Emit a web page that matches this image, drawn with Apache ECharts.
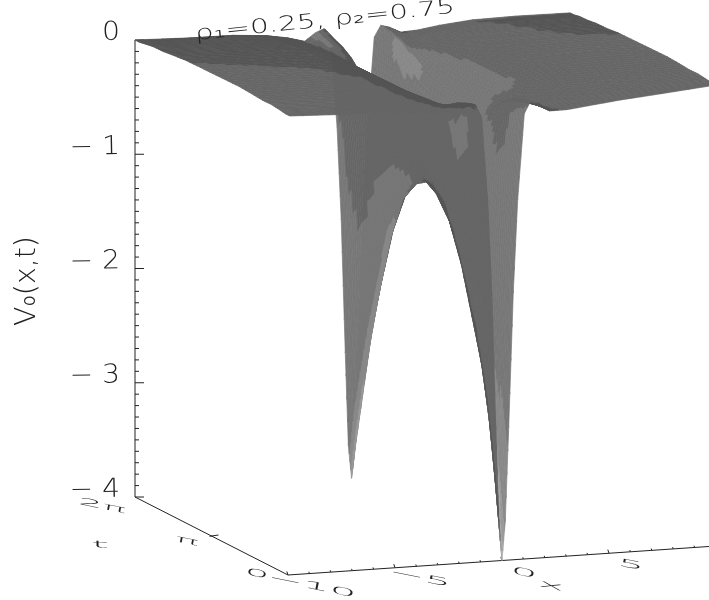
<!DOCTYPE html>
<html>
<head>
<meta charset="utf-8">
<style>
  html, body { margin: 0; padding: 0; background: #fff; }
  #chart { width: 709px; height: 600px; }
</style>
</head>
<body>
<div id="chart"></div>
<script src="https://cdn.jsdelivr.net/npm/echarts@6/dist/echarts.min.js"></script>
<script>
// x positions of the surface columns
const xValues = [-10, -7.5, -5.5, -4, -3, -2.2, -1.7, -1.3, -1, -0.7, -0.5, -0.3, -0.15, 0, 0.15, 0.3, 0.5, 0.7, 1, 1.3, 1.7, 2.2, 3, 4, 5.5, 7.5, 10]
// t positions of the surface rows, as a fraction of 2 pi
const tTurns = [0, 0.03, 0.07, 0.12, 0.18, 0.25, 0.33, 0.42, 0.5, 0.58, 0.67, 0.75, 0.82, 0.88, 0.93, 0.97, 1]
// V0(x,t), one row per t
const surfaceRows = [
  [0, -0.02, -0.03, -0.05, -0.07, -0.06, -0.03, -0.02, -0.13, -0.87, -1.68, -2.85, -3.66, -4, -3.66, -2.85, -1.68, -0.87, -0.13, -0.02, -0.05, -0.12, -0.12, -0.1, -0.07, -0.04, 0],
  [0, -0.01, -0.02, -0.04, -0.07, -0.06, -0.05, -0.03, -0.12, -0.77, -1.49, -2.52, -3.25, -3.55, -3.25, -2.52, -1.49, -0.77, -0.12, -0.03, -0.07, -0.12, -0.11, -0.09, -0.06, -0.03, 0],
  [0.01, -0.01, -0.02, -0.03, -0.06, -0.07, -0.07, -0.05, -0.16, -0.7, -1.35, -2.18, -2.76, -3, -2.76, -2.18, -1.35, -0.7, -0.16, -0.05, -0.09, -0.12, -0.1, -0.07, -0.05, -0.02, 0.01],
  [0.02, 0, -0.01, -0.02, -0.05, -0.08, -0.1, -0.08, -0.2, -0.76, -1.28, -1.93, -2.34, -2.5, -2.34, -1.93, -1.28, -0.76, -0.2, -0.08, -0.11, -0.11, -0.09, -0.05, -0.03, -0.01, 0.02],
  [0.02, 0.01, 0, -0.01, -0.04, -0.08, -0.13, -0.14, -0.4, -0.84, -1.26, -1.74, -2, -2.1, -2, -1.74, -1.26, -0.84, -0.4, -0.14, -0.14, -0.11, -0.07, -0.03, -0.02, 0, 0.02],
  [0.03, 0.02, 0.01, 0, -0.03, -0.09, -0.17, -0.25, -0.46, -0.83, -1.14, -1.44, -1.6, -1.65, -1.6, -1.44, -1.14, -0.83, -0.46, -0.25, -0.17, -0.11, -0.06, -0.01, 0, 0.02, 0.03],
  [0.04, 0.03, 0.02, 0.01, -0.03, -0.1, -0.2, -0.3, -0.51, -0.78, -0.99, -1.18, -1.27, -1.3, -1.27, -1.18, -0.99, -0.78, -0.51, -0.3, -0.2, -0.1, -0.04, 0.01, 0.02, 0.03, 0.04],
  [0.04, 0.04, 0.03, 0.02, -0.02, -0.1, -0.22, -0.32, -0.5, -0.73, -0.88, -1, -1.08, -1.1, -1.08, -1, -0.88, -0.73, -0.5, -0.32, -0.22, -0.1, -0.03, 0.02, 0.03, 0.04, 0.04],
  [0.04, 0.04, 0.03, 0.02, -0.02, -0.1, -0.22, -0.33, -0.5, -0.7, -0.85, -0.96, -1.01, -1.03, -1.01, -0.96, -0.85, -0.7, -0.5, -0.33, -0.22, -0.1, -0.03, 0.02, 0.03, 0.04, 0.04],
  [0.04, 0.04, 0.03, 0.02, -0.02, -0.1, -0.22, -0.32, -0.5, -0.73, -0.88, -1, -1.08, -1.1, -1.08, -1, -0.88, -0.73, -0.5, -0.32, -0.22, -0.1, -0.03, 0.02, 0.03, 0.04, 0.04],
  [0.04, 0.03, 0.02, 0.01, -0.03, -0.1, -0.2, -0.3, -0.51, -0.78, -0.99, -1.18, -1.27, -1.3, -1.27, -1.18, -0.99, -0.78, -0.51, -0.3, -0.2, -0.1, -0.03, 0.01, 0.03, 0.04, 0.04],
  [0.03, 0.03, 0.02, 0.01, -0.03, -0.1, -0.17, -0.25, -0.46, -0.83, -1.14, -1.44, -1.62, -1.7, -1.62, -1.44, -1.14, -0.83, -0.46, -0.25, -0.16, -0.09, -0.04, 0, 0.02, 0.03, 0.03],
  [0.02, 0.02, 0.01, 0, -0.04, -0.1, -0.13, -0.14, -0.4, -0.84, -1.26, -1.76, -2.08, -2.2, -2.08, -1.76, -1.26, -0.84, -0.4, -0.14, -0.13, -0.09, -0.04, 0, 0.02, 0.03, 0.03],
  [0.02, 0.01, 0, -0.01, -0.05, -0.1, -0.1, -0.08, -0.2, -0.76, -1.28, -1.98, -2.5, -2.7, -2.5, -1.98, -1.28, -0.76, -0.2, -0.06, -0.1, -0.08, -0.05, -0.01, 0.01, 0.02, 0.02],
  [0.01, 0, 0, -0.02, -0.05, -0.1, -0.07, -0.05, -0.16, -0.7, -1.35, -2.25, -2.9, -3.2, -2.9, -2.25, -1.35, -0.7, -0.14, -0.03, -0.06, -0.08, -0.05, -0.02, 0.01, 0.02, 0.02],
  [0, 0, 0, -0.02, -0.06, -0.1, -0.05, -0.02, -0.12, -0.77, -1.49, -2.52, -3.25, -3.6, -3.25, -2.52, -1.49, -0.77, -0.1, -0.01, -0.04, -0.07, -0.06, -0.03, 0, 0.01, 0.01],
  [0, -0.01, -0.01, -0.03, -0.06, -0.1, -0.03, 0, -0.13, -0.87, -1.68, -2.85, -3.66, -3.95, -3.66, -2.85, -1.68, -0.87, -0.1, 0, -0.02, -0.07, -0.06, -0.03, 0, 0.01, 0.01]
]
const vTicks = [0, -1, -2, -3, -4]
const vTickLabels = ['0', '\u2212 1', '\u2212 2', '\u2212 3', '\u2212 4']
const xTicks = [-10, -5, 0, 5]
const xTickLabels = ['\u221210', '\u22125', '0', '5']
const tTicks = [0, 0.5, 1]
const tTickLabels = ['0', '\u03c0', '2\u03c0']
const titleText = '\u03c1\u2081=0.25, \u03c1\u2082=0.75'

// corners of the box, in page pixels
const roofCorners = { fl: [290, 116], fr: [716, 85], bl: [135, 40], br: [570, 14] }
const floorCorners = { fl: [288, 575], fr: [716, 546], bl: [135, 497], br: [568, 471] }

function cornerMix(c, u, s) {
  return [0, 1].map((k) => (1 - s) * ((1 - u) * c.fl[k] + u * c.fr[k]) + s * ((1 - u) * c.bl[k] + u * c.br[k]))
}

function project(x, s, v) {
  const u = (x + 10) / 20
  const roof = cornerMix(roofCorners, u, s)
  const floor = cornerMix(floorCorners, u, s)
  const f = -v / 4
  return [roof[0] + (floor[0] - roof[0]) * f, roof[1] + (floor[1] - roof[1]) * f]
}

// shade of one grid vertex: the light sits near the viewer, the underside comes out a bit dimmer
const light = [-0.35, -0.92, 0.17]
function vertexShade(i, j) {
  const il = Math.max(i - 1, 0), ir = Math.min(i + 1, xValues.length - 1)
  const jl = Math.max(j - 1, 0), jr = Math.min(j + 1, tTurns.length - 1)
  const vx = (surfaceRows[j][ir] - surfaceRows[j][il]) / (xValues[ir] - xValues[il]) * 5
  const vt = (surfaceRows[jr][i] - surfaceRows[jl][i]) / (tTurns[jr] - tTurns[jl]) / 4
  const len = Math.sqrt(vx * vx + vt * vt + 1)
  const nl = (-vx * light[0] - vt * light[1] + light[2]) / len
  return 76 + 100 * (nl >= 0 ? nl * 1.1 : -nl * 0.92)
}

function grayOf(shade) {
  const level = Math.round(Math.min(Math.max(shade, 68), 170) / 17) * 17
  return 'rgb(' + level + ',' + level + ',' + level + ')'
}

const shades = tTurns.map((_, j) => xValues.map((_, i) => vertexShade(i, j)))
const SUB = 4

const cells = []
for (let j = tTurns.length - 2; j >= 0; j--) {
  for (let i = xValues.length - 2; i >= 0; i--) {
    cells.push([i, j])
  }
}

function renderCell(params, api) {
  const i = api.value(0), j = api.value(1)
  const p00 = project(xValues[i], tTurns[j], surfaceRows[j][i])
  const p10 = project(xValues[i + 1], tTurns[j], surfaceRows[j][i + 1])
  const p01 = project(xValues[i], tTurns[j + 1], surfaceRows[j + 1][i])
  const p11 = project(xValues[i + 1], tTurns[j + 1], surfaceRows[j + 1][i + 1])
  const at = (a, b) => api.coord([0, 1].map((k) =>
    (1 - b) * ((1 - a) * p00[k] + a * p10[k]) + b * ((1 - a) * p01[k] + a * p11[k])))
  const shadeAt = (a, b) =>
    (1 - b) * ((1 - a) * shades[j][i] + a * shades[j][i + 1]) + b * ((1 - a) * shades[j + 1][i] + a * shades[j + 1][i + 1])
  const children = []
  for (let b = SUB - 1; b >= 0; b--) {
    for (let a = SUB - 1; a >= 0; a--) {
      const col = grayOf(shadeAt((a + 0.5) / SUB, (b + 0.5) / SUB))
      children.push({
        type: 'polygon',
        shape: { points: [at(a / SUB, b / SUB), at((a + 1) / SUB, b / SUB), at((a + 1) / SUB, (b + 1) / SUB), at(a / SUB, (b + 1) / SUB)] },
        style: { fill: col, stroke: col, lineWidth: 0.7 }
      })
    }
  }
  return { type: 'group', children }
}

const AXIS_COLOR = '#222'
const axisSegments = []
function addSegment(a, b) {
  axisSegments.push([a[0], a[1], b[0], b[1]])
}
addSegment(project(-10, 1, 0), project(-10, 1, -4))
addSegment(project(-10, 1, -4), project(-10, 0, -4))
addSegment(project(-10, 0, -4), project(10, 0, -4))
for (let k = 0; k <= 40; k++) {
  const p = project(-10, 1, -k / 10)
  addSegment(p, [p[0] + (k % 10 === 0 ? 9 : 4), p[1]])
}
for (let k = -10; k <= 10; k++) {
  const p = project(k, 0, -4)
  const len = k % 5 === 0 ? 4 : 2
  addSegment(p, [p[0] - len * 0.3, p[1] - len * 0.9])
}
const piTick = project(-10, 0.5, -4)
addSegment([piTick[0] - 2, piTick[1] + 0.3], [piTick[0] + 7, piTick[1] - 1])

function renderSegment(params, api) {
  const a = api.coord([api.value(0), api.value(1)])
  const b = api.coord([api.value(2), api.value(3)])
  return {
    type: 'line',
    shape: { x1: a[0], y1: a[1], x2: b[0], y2: b[1] },
    style: { stroke: AXIS_COLOR, lineWidth: 1 }
  }
}

const FONT = '200 26px "DejaVu Sans"'
const textItems = []
vTicks.forEach((v, k) => {
  const p = project(-10, 1, v)
  textItems.push({ text: vTickLabels[k], pos: [120, p[1] - 7], align: 'right', rot: 0.02, sx: 1.08, sy: 1 })
})
const tLabelPos = [[257, 574], [187, 541], [102, 506]]
tTicks.forEach((s, k) => {
  textItems.push({ text: tTickLabels[k], pos: tLabelPos[k], align: 'center', rot: -0.2, sx: 1.5, sy: 0.38 })
})
const xLabelPos = [[312, 586], [420, 578], [524, 573], [631, 565]]
xTicks.forEach((x, k) => {
  textItems.push({ text: xTickLabels[k], pos: xLabelPos[k], align: 'center', rot: -0.2, sx: 1.65, sy: 0.4 })
})
textItems.push({ text: 'x', pos: [551, 586], align: 'center', rot: -0.2, sx: 1.7, sy: 0.4 })
textItems.push({ text: 't', pos: [100, 545], align: 'center', rot: 0.02, sx: 1.7, sy: 0.38 })
textItems.push({ text: titleText, pos: [325, 21], align: 'center', rot: 0.105, sx: 1.48, sy: 1, font: '200 20px "DejaVu Sans"' })
textItems.push({ text: 'V\u2080(x,t)', pos: [28, 281], align: 'center', rot: Math.PI / 2, sx: 1.05, sy: 1.05, font: '200 27px "DejaVu Sans"' })

function renderText(params, api) {
  const it = textItems[params.dataIndex]
  const c = api.coord(it.pos)
  return {
    type: 'text',
    x: c[0],
    y: c[1],
    rotation: it.rot,
    scaleX: it.sx,
    scaleY: it.sy,
    style: {
      text: it.text,
      font: it.font || FONT,
      fill: '#222',
      textAlign: it.align,
      textVerticalAlign: 'middle'
    }
  }
}

const chart = echarts.init(document.getElementById('chart'))
chart.setOption({
  animation: false,
  grid: { left: 0, right: 0, top: 0, bottom: 0 },
  xAxis: { type: 'value', min: 0, max: 709, show: false },
  yAxis: { type: 'value', min: 0, max: 600, inverse: true, show: false },
  series: [
    { type: 'custom', silent: true, renderItem: renderSegment, data: axisSegments, z: 1 },
    { type: 'custom', silent: true, renderItem: renderCell, data: cells, z: 2 },
    { type: 'custom', silent: true, renderItem: renderText, data: textItems.map((t, k) => [k]), z: 3 }
  ]
})
</script>
</body>
</html>
